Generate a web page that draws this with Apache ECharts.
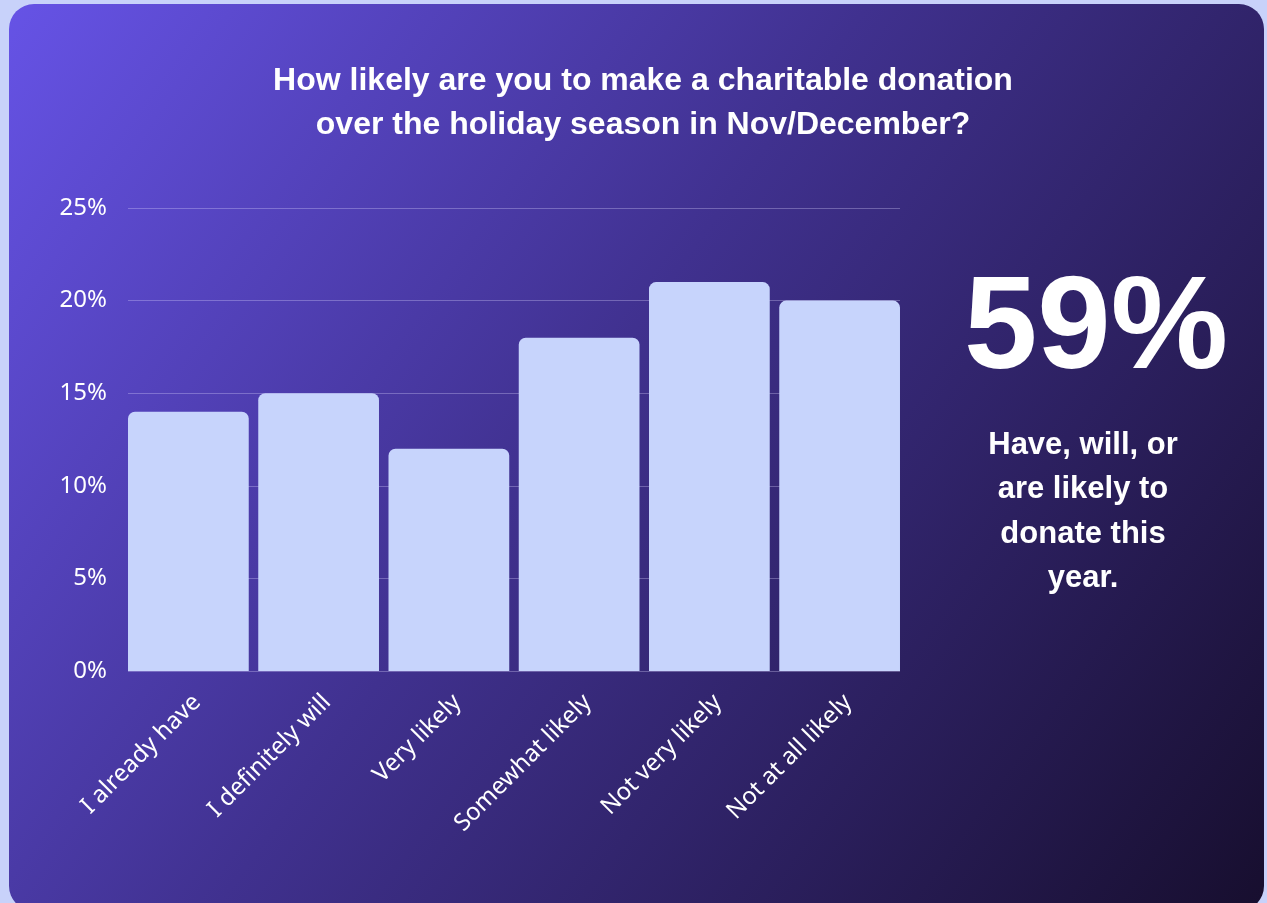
<!DOCTYPE html>
<html>
<head>
<meta charset="utf-8">
<script src="https://cdn.jsdelivr.net/npm/echarts@6/dist/echarts.min.js"></script>
<style>
  html, body { margin: 0; padding: 0; background: #c8d2fa; }
  #chart { width: 1267px; height: 903px; }
</style>
</head>
<body>
<div id="chart"></div>
<script>
// Survey answers and their shares (%)
const categories = ['I already have', 'I definitely will', 'Very likely', 'Somewhat likely', 'Not very likely', 'Not at all likely'];
const shares = [14, 15, 12, 18, 21, 20];
const yTicks = [0, 5, 10, 15, 20, 25];

const titleLines = ['How likely are you to make a charitable donation', 'over the holiday season in Nov/December?'];
const headline = '59%';
const headlineNote = ['Have, will, or', 'are likely to', 'donate this', 'year.'];

const chart = echarts.init(document.getElementById('chart'), null, { renderer: 'canvas' });

const labelFont = 'Noto Sans, Arial, sans-serif';
const plotTop = 208, plotBottom = 232;

chart.setOption({
  backgroundColor: '#c8d2fa',
  animation: false,
  title: {
    text: titleLines.join('\n'),
    left: 638,
    top: 54,
    textAlign: 'center',
    textStyle: {
      color: '#ffffff',
      fontFamily: 'Liberation Sans, Arial, sans-serif',
      fontWeight: 'bold',
      fontSize: 32,
      lineHeight: 44
    }
  },
  graphic: [
    {
      type: 'rect',
      z: -10,
      silent: true,
      shape: { x: 9, y: 4, width: 1255, height: 907, r: 25 },
      style: {
        fill: {
          type: 'linear', x: 0, y: 0, x2: 1, y2: 1,
          colorStops: [
            { offset: 0, color: '#6653e6' },
            { offset: 0.45, color: '#40318f' },
            { offset: 1, color: '#170e2e' }
          ]
        }
      }
    },
    {
      type: 'text',
      x: 1096,
      y: 266,
      style: {
        text: headline,
        fill: '#ffffff',
        font: 'bold 132px "Liberation Sans", Arial, sans-serif',
        textAlign: 'center',
        textVerticalAlign: 'top'
      }
    },
    {
      type: 'text',
      x: 1083,
      y: 423,
      style: {
        text: headlineNote.join('\n'),
        fill: '#ffffff',
        font: 'bold 31px "Liberation Sans", Arial, sans-serif',
        lineHeight: 44.5,
        textAlign: 'center'
      }
    }
  ],
  grid: [
    // bars: widened by half a gap on each side so the outer bars sit flush with the gridlines
    { left: 123.25, right: 362.25, top: plotTop, bottom: plotBottom, containLabel: false },
    // gridlines and percentage labels
    { left: 128, right: 367, top: plotTop, bottom: plotBottom, containLabel: false }
  ],
  xAxis: [
    {
      type: 'category',
      gridIndex: 0,
      data: categories,
      axisLine: { show: false },
      axisTick: { show: false },
      axisLabel: {
        rotate: 45,
        interval: 0,
        margin: 19,
        verticalAlign: 'top',
        color: '#ffffff',
        fontFamily: labelFont,
        fontSize: 24
      }
    },
    {
      type: 'value',
      gridIndex: 1,
      show: false
    }
  ],
  yAxis: [
    {
      type: 'value',
      gridIndex: 0,
      min: 0, max: 25, interval: 5,
      show: false
    },
    {
      type: 'value',
      gridIndex: 1,
      min: yTicks[0], max: yTicks[yTicks.length - 1], interval: 5,
      axisLine: { show: false },
      axisTick: { show: false },
      splitLine: { lineStyle: { color: 'rgba(220,215,255,0.32)', width: 1 } },
      axisLabel: {
        margin: 21,
        color: '#ffffff',
        fontFamily: labelFont,
        fontSize: 24,
        formatter: '{value}%'
      }
    }
  ],
  series: [
    {
      type: 'bar',
      xAxisIndex: 0,
      yAxisIndex: 0,
      data: shares,
      barCategoryGap: '7.3%',
      itemStyle: { color: '#c7d4fc', borderRadius: [7, 7, 0, 0] },
      z: 3
    }
  ]
});
</script>
</body>
</html>
